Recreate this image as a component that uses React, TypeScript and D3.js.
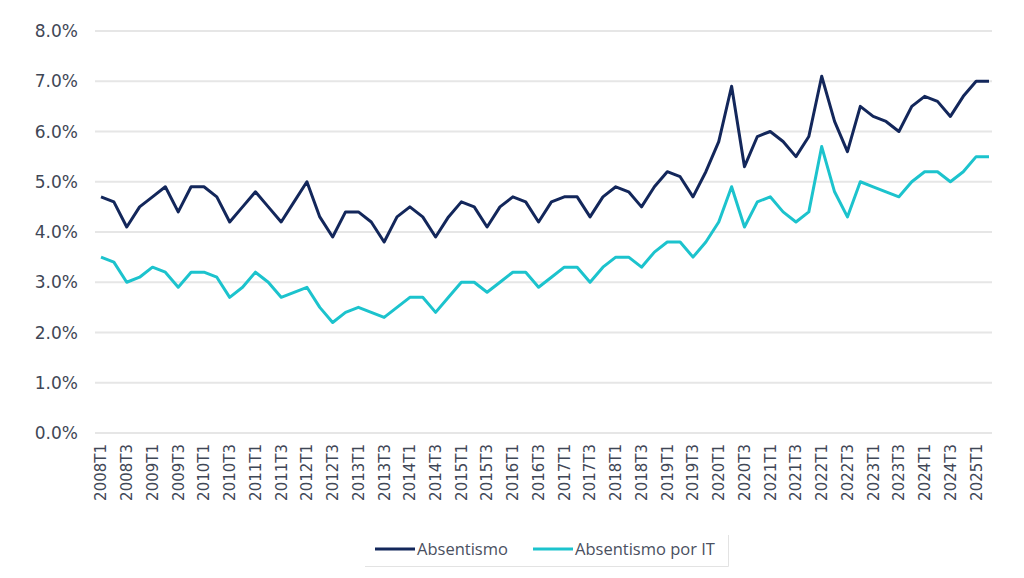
import { useEffect, useRef } from 'react';
import * as d3 from 'd3';

const years = d3.range(2008, 2026);
const quarters = years.flatMap((y) => [1, 2, 3, 4].map((q) => `${y}T${q}`)).slice(0, 70);

const absentismo = [
  4.7, 4.6, 4.1, 4.5, 4.7, 4.9, 4.4, 4.9,
  4.9, 4.7, 4.2, 4.5, 4.8, 4.5, 4.2, 4.6,
  5.0, 4.3, 3.9, 4.4, 4.4, 4.2, 3.8, 4.3,
  4.5, 4.3, 3.9, 4.3, 4.6, 4.5, 4.1, 4.5,
  4.7, 4.6, 4.2, 4.6, 4.7, 4.7, 4.3, 4.7,
  4.9, 4.8, 4.5, 4.9, 5.2, 5.1, 4.7, 5.2,
  5.8, 6.9, 5.3, 5.9, 6.0, 5.8, 5.5, 5.9,
  7.1, 6.2, 5.6, 6.5, 6.3, 6.2, 6.0, 6.5,
  6.7, 6.6, 6.3, 6.7, 7.0, 7.0,
];

const absentismoIT = [
  3.5, 3.4, 3.0, 3.1, 3.3, 3.2, 2.9, 3.2,
  3.2, 3.1, 2.7, 2.9, 3.2, 3.0, 2.7, 2.8,
  2.9, 2.5, 2.2, 2.4, 2.5, 2.4, 2.3, 2.5,
  2.7, 2.7, 2.4, 2.7, 3.0, 3.0, 2.8, 3.0,
  3.2, 3.2, 2.9, 3.1, 3.3, 3.3, 3.0, 3.3,
  3.5, 3.5, 3.3, 3.6, 3.8, 3.8, 3.5, 3.8,
  4.2, 4.9, 4.1, 4.6, 4.7, 4.4, 4.2, 4.4,
  5.7, 4.8, 4.3, 5.0, 4.9, 4.8, 4.7, 5.0,
  5.2, 5.2, 5.0, 5.2, 5.5, 5.5,
];

const yTicks = [0, 1, 2, 3, 4, 5, 6, 7, 8];

const series = [
  { name: 'Absentismo', values: absentismo, color: '#13275b' },
  { name: 'Absentismo por IT', values: absentismoIT, color: '#1cc3cd' },
];

export default function App() {
  const svgRef = useRef<SVGSVGElement>(null);

  useEffect(() => {
    document.body.style.margin = '0';
    if (!svgRef.current) return;
    const svg = d3.select(svgRef.current);
    svg.selectAll('*').remove();

    const x = d3.scalePoint<string>().domain(quarters).range([101, 989]);
    const y = d3.scaleLinear().domain([0, 8]).range([433, 31]);

    // gridlines
    svg.append('g')
      .selectAll('line')
      .data(yTicks)
      .join('line')
      .attr('x1', 95)
      .attr('x2', 992)
      .attr('y1', (d) => y(d))
      .attr('y2', (d) => y(d))
      .attr('stroke', '#e6e6e6')
      .attr('stroke-width', 2);

    // y labels
    svg.append('g')
      .selectAll('text')
      .data(yTicks)
      .join('text')
      .attr('x', 78)
      .attr('y', (d) => y(d))
      .attr('dy', '0.36em')
      .attr('text-anchor', 'end')
      .attr('font-family', 'DejaVu Sans, Verdana, sans-serif')
      .attr('font-size', 17)
      .attr('fill', '#3f4756')
      .text((d) => `${d.toFixed(1)}%`);

    // x labels (every other quarter)
    svg.append('g')
      .selectAll('text')
      .data(quarters.filter((_q, i) => i % 2 === 0))
      .join('text')
      .attr('transform', (d) => `translate(${x(d)},444) rotate(-90)`)
      .attr('dy', '0.36em')
      .attr('text-anchor', 'end')
      .attr('font-family', 'DejaVu Sans, Verdana, sans-serif')
      .attr('font-size', 15)
      .attr('fill', '#3f4756')
      .text((d) => d);

    const line = d3
      .line<number>()
      .x((_d, i) => x(quarters[i]) ?? 0)
      .y((d) => y(d));

    series.forEach((s) => {
      svg.append('path')
        .datum(s.values)
        .attr('fill', 'none')
        .attr('stroke', s.color)
        .attr('stroke-width', 3)
        .attr('stroke-linejoin', 'round')
        .attr('d', line);
    });

    // legend
    const legend = svg.append('g');
    legend.append('path')
      .attr('d', 'M365,566.5H728.5V535')
      .attr('fill', 'none')
      .attr('stroke', '#e3e3e3')
      .attr('stroke-width', 1);
    const legendX = [375, 533];
    series.forEach((s, i) => {
      legend.append('line')
        .attr('x1', legendX[i])
        .attr('x2', legendX[i] + 40)
        .attr('y1', 549)
        .attr('y2', 549)
        .attr('stroke', s.color)
        .attr('stroke-width', 3);
      legend.append('text')
        .attr('x', legendX[i] + 42)
        .attr('y', 549)
        .attr('dy', '0.36em')
        .attr('font-family', 'Open Sans, sans-serif')
        .attr('font-size', 16.5)
        .attr('fill', '#4a5060')
        .text(s.name);
    });
  }, []);

  return <svg ref={svgRef} width={1024} height={578} style={{ display: 'block', background: '#fff' }} />;
}
